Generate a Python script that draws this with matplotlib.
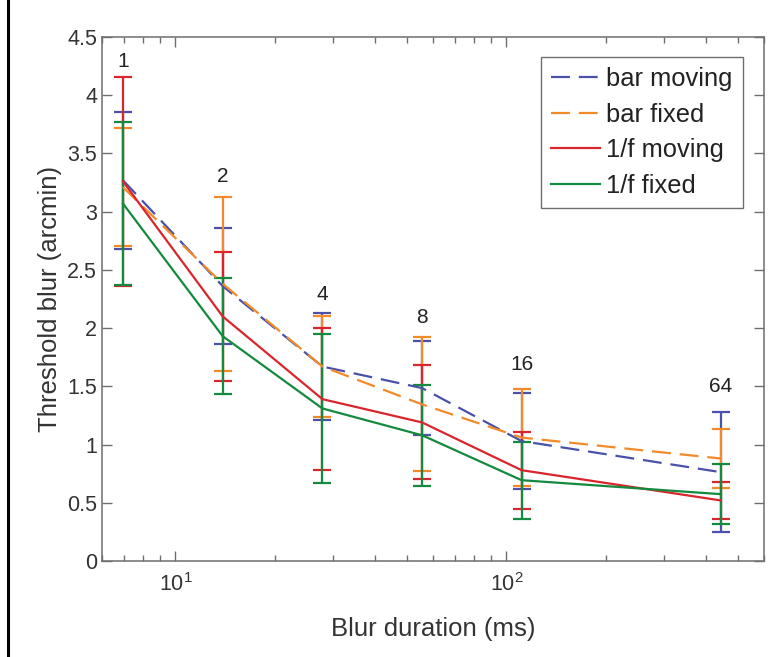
from matplotlib import pyplot as plt
from matplotlib.lines import Line2D
import matplotlib.ticker as tck

plt.rcParams.update({
    "font.family": "Liberation Sans",
    "mathtext.fontset": "custom",
    "mathtext.rm": "Liberation Sans",
    "font.size": 15.5,
    "legend.fancybox": False,
})

# blur durations (ms) and number of frames
durations = [6.94, 13.9, 27.8, 55.6, 111.1, 444.4]
frames = ["1", "2", "4", "8", "16", "64"]
label_y = [4.29, 3.30, 2.29, 2.09, 1.69, 1.50]

bar_moving = [3.27, 2.36, 1.67, 1.485, 1.03, 0.763]
bar_moving_err = [0.59, 0.50, 0.46, 0.405, 0.41, 0.517]
bar_fixed = [3.21, 2.38, 1.67, 1.345, 1.06, 0.88]
bar_fixed_err = [0.505, 0.75, 0.43, 0.575, 0.42, 0.25]
f_moving = [3.26, 2.10, 1.39, 1.19, 0.78, 0.52]
f_moving_err = [0.90, 0.55, 0.61, 0.49, 0.33, 0.157]
f_fixed = [3.07, 1.93, 1.31, 1.08, 0.694, 0.574]
f_fixed_err = [0.70, 0.50, 0.64, 0.435, 0.33, 0.258]

series = [
    ("bar moving", bar_moving, bar_moving_err, "#4a51a8", "--"),
    ("bar fixed", bar_fixed, bar_fixed_err, "#f28a2a", "--"),
    ("1/f moving", f_moving, f_moving_err, "#d8262c", "-"),
    ("1/f fixed", f_fixed, f_fixed_err, "#138a3e", "-"),
]

fig = plt.figure(figsize=(7.76, 6.57), dpi=100)
ax = fig.add_axes([102 / 776, 96 / 657, 662 / 776, 524 / 657])

handles = []
for name, vals, err, col, ls in series:
    cont = ax.errorbar(durations, vals, yerr=err, color=col, lw=1.6,
                       elinewidth=1.6, capsize=6.5, capthick=1.6)
    line = cont.lines[0]
    if ls == "--":
        line.set_dashes((8.5, 4))
    handles.append(line)

for x, y, t in zip(durations, label_y, frames):
    ax.text(x, y, t, ha="center", va="center", fontsize=15, color="#222222")

# Styling
ax.set_xscale("log")
ax.set_xlim(6, 600)
ax.set_ylim(0, 4.5)
ax.set_yticks([i * 0.5 for i in range(10)])
ax.yaxis.set_major_formatter(tck.FormatStrFormatter("%g"))
ax.tick_params(axis="both", which="both", direction="in", top=True,
               right=True, colors="#6e6e6e", labelcolor="#333333",
               labelsize=15.5)
ax.tick_params(which="major", length=7, width=1)
ax.tick_params(which="minor", length=4, width=1)
ax.tick_params(axis="x", pad=9)
for sp in ax.spines.values():
    sp.set_color("#6e6e6e")
    sp.set_linewidth(1.1)

ax.set_xlabel("Blur duration (ms)", fontsize=18.5, color="#333333",
              labelpad=15)
ax.set_ylabel("Threshold blur (arcmin)", fontsize=18.5, color="#333333",
              labelpad=4)

leg = ax.legend(handles, [s[0] for s in series], loc="upper right",
                bbox_to_anchor=(0.968, 0.962), fontsize=18.4,
                handlelength=1.9, handletextpad=0.25, labelspacing=0.45,
                borderpad=0.4, borderaxespad=0, framealpha=1)
leg.get_frame().set_edgecolor("#6e6e6e")
leg.get_frame().set_linewidth(1.0)
for t in leg.get_texts():
    t.set_color("#222222")

fig.add_artist(Line2D([7.5 / 776] * 2, [0, 1], color="black", lw=2.2))

fig.savefig("out.png", dpi=100)
